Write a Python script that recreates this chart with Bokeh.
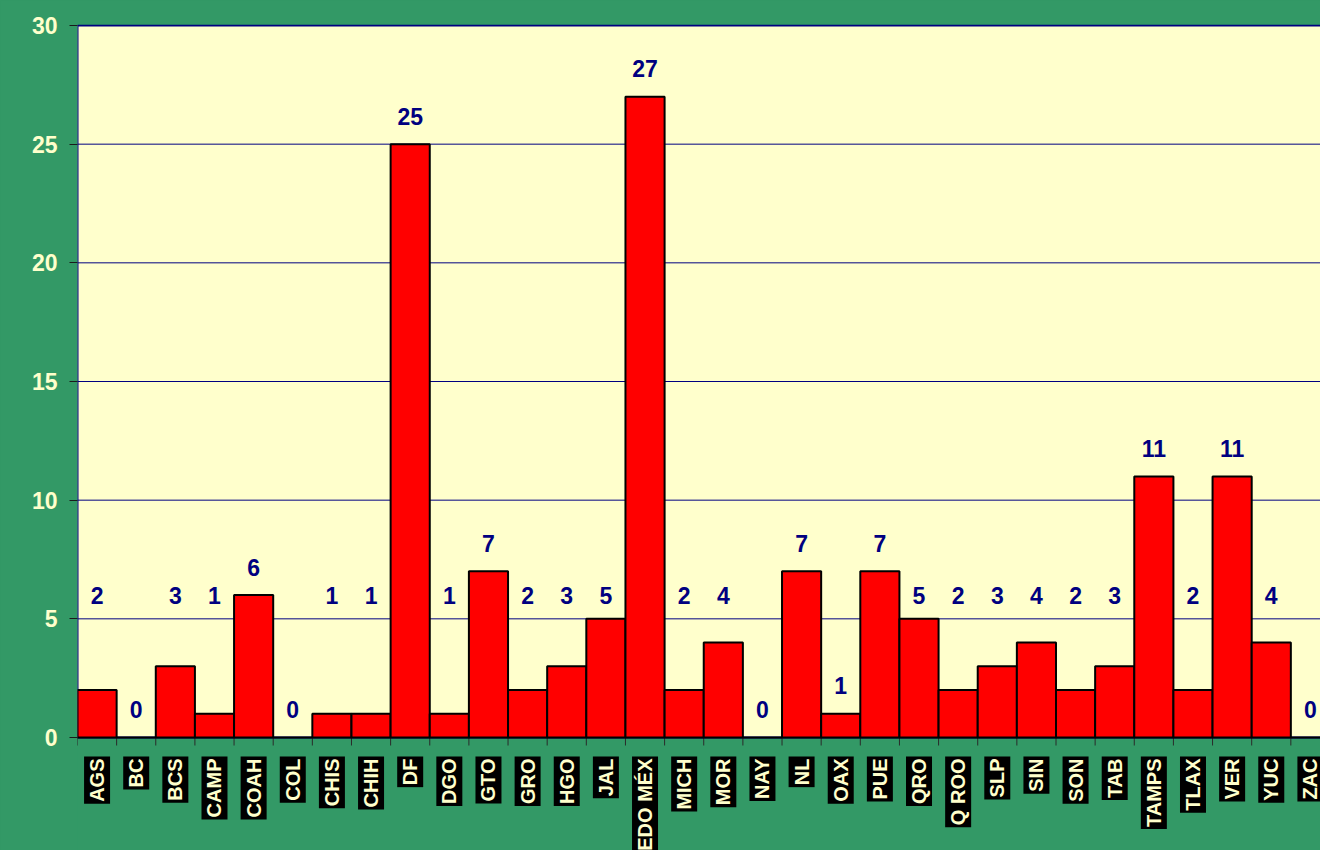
import math
from bokeh.plotting import figure
from bokeh.models import Range1d, FixedTicker, ColumnDataSource
from bokeh.core.properties import value
from bokeh.embed import file_html
from bokeh.resources import INLINE

# ---- data ----
states = ["AGS", "BC", "BCS", "CAMP", "COAH", "COL", "CHIS", "CHIH", "DF", "DGO",
          "GTO", "GRO", "HGO", "JAL", "EDO MÉX", "MICH", "MOR", "NAY", "NL", "OAX",
          "PUE", "QRO", "Q ROO", "SLP", "SIN", "SON", "TAB", "TAMPS", "TLAX", "VER",
          "YUC", "ZAC"]
counts = [2, 0, 3, 1, 6, 0, 1, 1, 25, 1,
          7, 2, 3, 5, 27, 2, 4, 0, 7, 1,
          7, 5, 2, 3, 4, 2, 3, 11, 2, 11,
          4, 0]
y_ticks = [0, 5, 10, 15, 20, 25, 30]

# ---- style ----
GREEN = "#339966"
PAPER = "#FFFFCC"
NAVY = "#000080"
FONT = "Liberation Sans"

W, H = 1320, 850
left_b, top_b = 77, 24
px_per_unit = 712 / 30.0
y_end = 30 + 1 / px_per_unit
y_start = -113 / px_per_unit
x_end = (W - left_b) / 39.14

n = len(states)
xs = [i + 0.5 for i in range(n)]

p = figure(width=W, height=H, output_backend="svg", toolbar_location=None,
           x_range=Range1d(0, x_end), y_range=Range1d(y_start, y_end),
           min_border_left=left_b, min_border_top=top_b,
           min_border_right=0, min_border_bottom=0, x_axis_location=None)
p.background_fill_color = GREEN
p.border_fill_color = GREEN
p.outline_line_color = None
p.xgrid.visible = False
p.ygrid.visible = False

ax = p.yaxis[0]
ax.ticker = FixedTicker(ticks=y_ticks)
ax.bounds = (0, 30)
ax.axis_line_color = None
ax.major_tick_out = 8
ax.major_tick_in = 0
ax.major_tick_line_color = "#1a1a1a"
ax.minor_tick_line_color = None
ax.major_label_standoff = 12
ax.major_label_text_font = FONT
ax.major_label_text_font_style = "bold"
ax.major_label_text_font_size = "23px"
ax.major_label_text_color = PAPER

# green ground under the category labels (hides any frame-edge seam)
p.quad(left=[-1], right=[n + 1], bottom=[y_start - 1], top=[0], fill_color=GREEN,
       line_color=None)

# plot area
p.quad(left=[0], right=[n], bottom=[0], top=[30], fill_color=PAPER, line_color=None)
grid_vals = [t for t in y_ticks if 0 < t < 30]
p.segment(x0=[0] * len(grid_vals), x1=[n] * len(grid_vals), y0=grid_vals, y1=grid_vals,
          line_color=NAVY, line_width=1)
p.quad(left=[0], right=[n], bottom=[0], top=[30], fill_color=None,
       line_color=NAVY, line_width=2)

# category tick marks below baseline
tick_len = 8 / px_per_unit
bounds_x = list(range(n + 1))
p.segment(x0=bounds_x, x1=bounds_x, y0=[0] * len(bounds_x), y1=[-tick_len] * len(bounds_x),
          line_color="#2a2a2a", line_width=1)

src = ColumnDataSource(dict(x=xs, top=counts, name=states))
p.vbar(x="x", top="top", bottom=0, width=1, source=src,
       fill_color="#FF0000", line_color="black", line_width=2)

# value labels (small values' labels sit at a common raised level, as in the original)
lift_level = 4.8
keep_at_bar = {"OAX"}
label_y = [lift_level if (0 < v <= 5 and s not in keep_at_bar) else v
           for s, v in zip(states, counts)]
p.text(x=xs, y=label_y, text=[str(v) for v in counts], text_align="center",
       text_baseline="alphabetic", y_offset=-28,
       text_font=value(FONT), text_font_style="bold", text_font_size="23px",
       text_color=NAVY)

# category labels: rotated, light text on black boxes
cat_y = -19 / px_per_unit
p.text(x=xs, y=[cat_y] * n, text=states, angle=math.pi / 2,
       text_align="right", text_baseline="middle",
       text_font=value(FONT), text_font_style="bold", text_font_size="20px",
       text_color=PAPER, background_fill_color="black", padding=2)

html = file_html(p, INLINE)
html = html.replace("<head>", "<head><style>html, body { background: #339966; }</style>", 1)
open("out.html", "w").write(html)
